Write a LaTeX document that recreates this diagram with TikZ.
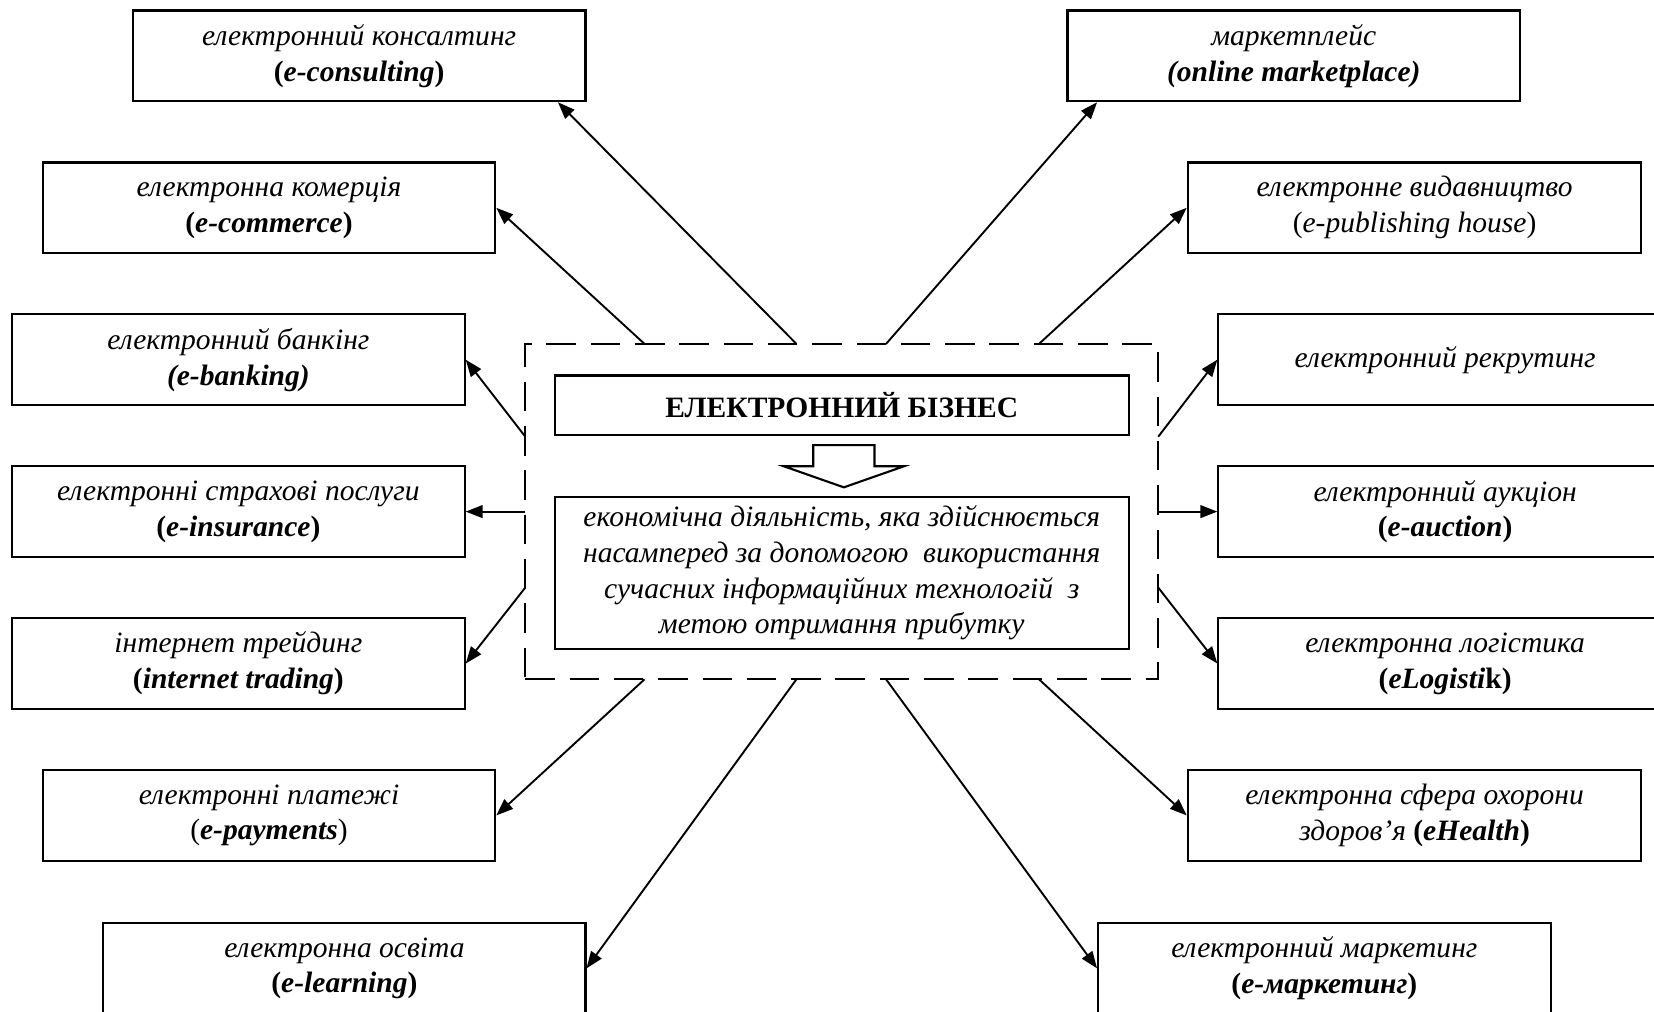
\documentclass[tikz,border=0pt]{standalone}
\usepackage{fontspec}
\setmainfont{Liberation Serif}
\usetikzlibrary{arrows.meta,calc}
\newcommand\enb[1]{\textbf{\textit{#1}}}
\begin{document}
\begin{tikzpicture}[x=0.5pt,y=-0.5pt,
  box/.style={draw,line width=1pt,align=center,inner sep=0pt,
    minimum width=214.5pt,minimum height=43pt,
    font=\fontsize{14}{17}\selectfont},
  frame/.style={draw,line width=0.8pt,dash pattern=on 14pt off 7pt,
    minimum width=300pt,minimum height=159pt,inner sep=0pt},
  arr/.style={line width=0.9pt,-{Triangle[length=8pt,width=6pt]}},
  hollow/.style={draw,line width=1pt,fill=white}]
\useasboundingbox (0,0) rectangle (1568,959);
\clip (0,0) rectangle (1568,959);

% left column
\node[box] (c1) at (340.5,53) {\textit{електронний консалтинг}\\\textbf{(}\enb{e-consulting}\textbf{)}};
\node[box] (c2) at (255,197) {\textit{електронна комерція}\\\textbf{(}\enb{e-commerce}\textbf{)}};
\node[box] (c3) at (226,341) {\textit{електронний банкінг}\\\enb{(e-banking)}};
\node[box] (c4) at (226,485) {\textit{електронні страхові послуги}\\\textbf{(}\enb{e-insurance}\textbf{)}};
\node[box] (c5) at (226,629) {\textit{інтернет трейдинг}\\\textbf{(}\enb{internet trading}\textbf{)}};
\node[box] (c6) at (255,773) {\textit{електронні платежі}\\(\enb{e-payments})};
\node[box,minimum width=228.5pt] (c7) at (326.5,918) {\textit{електронна освіта}\\\textbf{(}\enb{e-learning}\textbf{)}};

% right column
\node[box] (r1) at (1226.5,53) {\textit{маркетплейс}\\\enb{(online marketplace)}};
\node[box,minimum width=215pt] (r2) at (1341,197) {\textit{електронне видавництво}\\(\textit{e-publishing house})};
\node[box,minimum width=215pt] (r3) at (1370,341) {\textit{електронний рекрутинг}};
\node[box,minimum width=215pt] (r4) at (1370,485) {\textit{електронний аукціон}\\\textbf{(}\enb{e-auction}\textbf{)}};
\node[box,minimum width=215pt] (r5) at (1370,629) {\textit{електронна логістика}\\\textbf{(}\enb{eLogisti}\textbf{k)}};
\node[box,minimum width=215pt] (r6) at (1341,773) {\textit{електронна сфера охорони}\\\textit{здоров’я} \textbf{(}\enb{eHealth}\textbf{)}};
\node[box] (r7) at (1255.5,918) {\textit{електронний маркетинг}\\\textbf{(}\enb{e-маркетинг}\textbf{)}};

% centre
\node[frame] (fr) at (798,485) {};
\node[box,minimum width=272pt,minimum height=28pt] (title) at (798,384) {\textbf{ЕЛЕКТРОННИЙ БІЗНЕС}};
\node[box,minimum width=272pt,minimum height=72pt] (desc) at (798,543)
  {\textit{економічна діяльність, яка здійснюється}\\
   \textit{насамперед за допомогою\ \ використання}\\
   \textit{сучасних інформаційних технологій\ \ з}\\
   \textit{метою отримання прибутку}};
\draw[hollow] (771,422) -- (829,422) -- (829,442) -- (857,442) -- (800,462)
  -- (743,442) -- (771,442) -- cycle;

% start points on the dashed frame
\coordinate (t1) at (611,326);
\coordinate (t2) at (755,326);
\coordinate (t3) at (840,326);
\coordinate (t4) at (985,326);
\coordinate (b1) at (611,644);
\coordinate (b2) at (755,644);
\coordinate (b3) at (840,644);
\coordinate (b4) at (985,644);
\coordinate (l1) at (498,414);
\coordinate (l2) at (498,485);
\coordinate (l3) at (498,557);
\coordinate (q1) at (1098,414);
\coordinate (q2) at (1098,485);
\coordinate (q3) at (1098,557);

% connectors
\draw[arr] (t2) -- ($(c1.south east)+(-27,0)$);
\draw[arr] (t1) -- (c2.east);
\draw[arr] (l1) -- (c3.east);
\draw[arr] (l2) -- (c4.east);
\draw[arr] (l3) -- (c5.east);
\draw[arr] (b1) -- (c6.east);
\draw[arr] (b2) -- (c7.east);
\draw[arr] (t3) -- ($(r1.south west)+(29,0)$);
\draw[arr] (t4) -- (r2.west);
\draw[arr] (q1) -- (r3.west);
\draw[arr] (q2) -- (r4.west);
\draw[arr] (q3) -- (r5.west);
\draw[arr] (b4) -- (r6.west);
\draw[arr] (b3) -- (r7.west);
\end{tikzpicture}
\end{document}
